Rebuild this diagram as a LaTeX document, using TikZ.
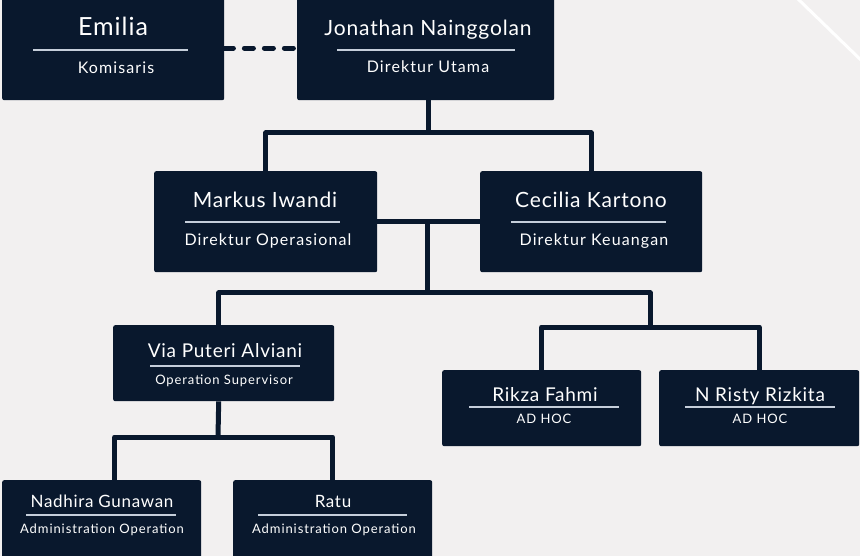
\documentclass[tikz,border=0pt]{standalone}
\usepackage{fontspec}
\setmainfont{Lato}
\usetikzlibrary{calc}
\definecolor{navy}{HTML}{09182D}
\definecolor{paper}{HTML}{F2F0F0}
\definecolor{rulegray}{HTML}{C5CEDA}

\begin{document}
\begin{tikzpicture}[x=1pt,y=-1pt,
	orgbox/.style={fill=navy,rounded corners=2pt,inner sep=0pt,anchor=north west},
	bigname/.style={text=white,anchor=base,inner sep=0pt,font=\fontsize{#1}{#1}\selectfont\addfontfeatures{LetterSpace=4}},
	role/.style={text=white,anchor=base,inner sep=0pt,font=\fontsize{#1}{#1}\selectfont\addfontfeatures{LetterSpace=7}},
	sepline/.style={rulegray,line width=1.2pt},
	link/.style={navy,line width=5pt,line join=round}]
	\useasboundingbox (0,0) rectangle (860,556);
	\fill[paper] (0,0) rectangle (860,556);
	\draw[white,line width=3pt] (797,-2) -- (864,63);

	% boxes
	\node[orgbox,minimum width=222pt,minimum height=104pt] (emilia) at (2,-4) {};
	\node[orgbox,minimum width=257pt,minimum height=104pt] (jonathan) at (297,-4) {};
	\node[orgbox,minimum width=223pt,minimum height=101pt] (markus) at (154,171) {};
	\node[orgbox,minimum width=222pt,minimum height=101pt] (cecilia) at (480,171) {};
	\node[orgbox,minimum width=221pt,minimum height=76pt] (via) at (113,325) {};
	\node[orgbox,minimum width=199pt,minimum height=76pt] (rikza) at (442,370) {};
	\node[orgbox,minimum width=200pt,minimum height=76pt] (risty) at (659,370) {};
	\node[orgbox,minimum width=199pt,minimum height=80pt] (nadhira) at (2,480) {};
	\node[orgbox,minimum width=199pt,minimum height=80pt] (ratu) at (233,480) {};

	% names and roles
	\node[bigname=25] (emilia-name) at (113,36) {Emilia};
	\node[role=16] (emilia-role) at (116,74) {Komisaris};
	\node[bigname=21] (jonathan-name) at (428,36) {Jonathan Nainggolan};
	\node[role=16] (jonathan-role) at (428,73) {Direktur Utama};
	\node[bigname=21] (markus-name) at (265,208) {Markus Iwandi};
	\node[role=16] (markus-role) at (268,246) {Direktur Operasional};
	\node[bigname=21] (cecilia-name) at (591,208) {Cecilia Kartono};
	\node[role=16] (cecilia-role) at (594,246) {Direktur Keuangan};
	\node[bigname=19] (via-name) at (225,357) {Via Puteri Alviani};
	\node[role=13] (via-role) at (224,384) {Operation Supervisor};
	\node[bigname=19] (rikza-name) at (545,401) {Rikza Fahmi};
	\node[role=13] (rikza-role) at (544,423) {AD HOC};
	\node[bigname=19] (risty-name) at (760,401) {N Risty Rizkita};
	\node[role=13] (risty-role) at (760,423) {AD HOC};
	\node[bigname=17] (nadhira-name) at (102,507) {Nadhira Gunawan};
	\node[role=13] (nadhira-role) at (102,533) {Administration Operation};
	\node[bigname=17] (ratu-name) at (333,507) {Ratu};
	\node[role=13] (ratu-role) at (334,533) {Administration Operation};

	% separator lines
	\draw[sepline] (33,50) -- (188,50);
	\draw[sepline] (337,50) -- (515,50);
	\draw[sepline] (185,222) -- (340,222);
	\draw[sepline] (511,222) -- (666,222);
	\draw[sepline] (150,366) -- (300,366);
	\draw[sepline] (469,407) -- (619,407);
	\draw[sepline] (685,407) -- (835,407);
	\draw[sepline] (26,515) -- (176,515);
	\draw[sepline] (258,515) -- (407,515);

	% connectors
	\coordinate (top-bus) at (428,133);
	\coordinate (dir-mid) at (427,221);
	\coordinate (dir-bus) at (427,293);
	\coordinate (adhoc-bus) at (650,327);
	\coordinate (admin-bus) at (218,437);
	\draw[link,dash pattern=on 9pt off 11pt,line cap=round] (emilia.east) -- (jonathan.west);
	\draw[link] (jonathan.south -| top-bus) -- (top-bus);
	\draw[link] (markus.north) |- (top-bus) -| (cecilia.north);
	\draw[link] (markus.east) -- (cecilia.west);
	\draw[link] (dir-mid) -- (dir-bus);
	\draw[link] ([xshift=-5pt]via.north) |- (dir-bus) -| (adhoc-bus);
	\draw[link] (rikza.north) |- (adhoc-bus) -| (risty.north);
	\draw[link] ([xshift=-5pt]via.south) -- (admin-bus);
	\draw[link] ([xshift=13pt]nadhira.north) |- (admin-bus) -| (ratu.north);
\end{tikzpicture}
\end{document}
